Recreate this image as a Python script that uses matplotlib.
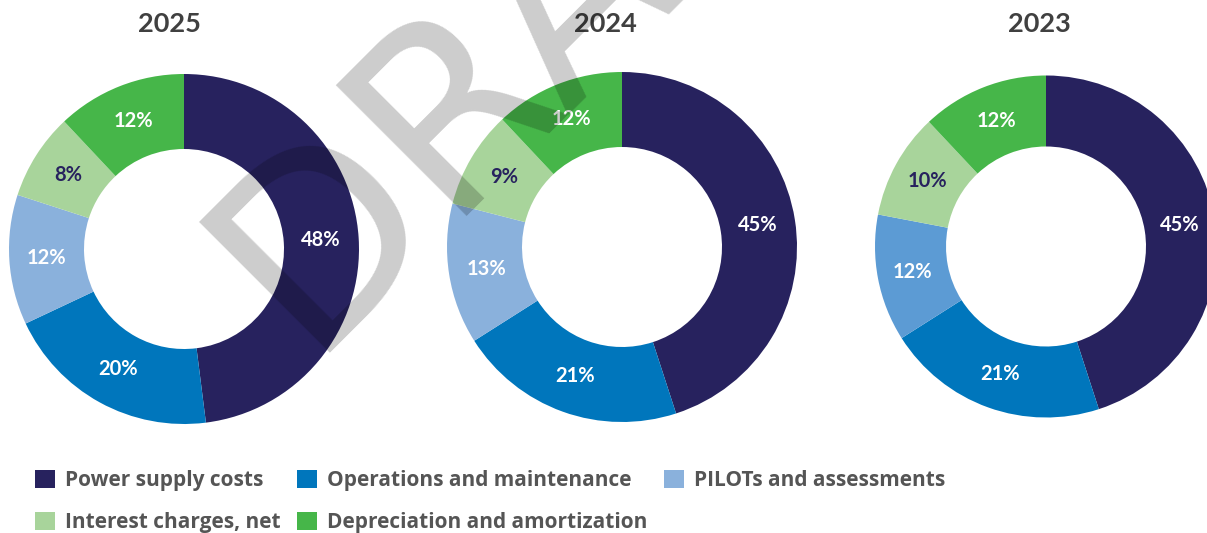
import matplotlib
matplotlib.use('Agg')
import matplotlib.pyplot as plt
from matplotlib.patches import Patch

plt.rcParams['font.family'] = ['Lato', 'DejaVu Sans']

# Data
years = ['2025', '2024', '2023']
categories = ['Power supply costs', 'Operations and maintenance', 'PILOTs and assessments',
              'Interest charges, net', 'Depreciation and amortization']
shares_2025 = [48, 20, 12, 8, 12]
shares_2024 = [45, 21, 13, 9, 12]
shares_2023 = [45, 21, 12, 10, 12]

# Styling
colors = ['#27225e', '#0076bc', '#8ab1dc', '#a8d49b', '#46b649']
colors_2023 = ['#27225e', '#0076bc', '#5c9bd4', '#a8d49b', '#46b649']
label_colors = ['white', 'white', 'white', '#27225e', 'white']

W, H = 1207, 533
fig = plt.figure(figsize=(W / 100, H / 100), dpi=100)
ax = fig.add_axes([0, 0, 1, 1])

# donut layout in pixel units (y measured from bottom)
centers = [(184, 284), (622, 286), (1046, 286.5)]
radii = [175, 175, 171]
hole = 100
title_pos = [(169, 509), (605, 509), (1039, 509)]

all_shares = [shares_2025, shares_2024, shares_2023]
all_colors = [colors, colors, colors_2023]

for year, shares, cols, c, r, tp in zip(years, all_shares, all_colors, centers, radii, title_pos):
    width = r - hole
    mid = (r + hole) / 2 / r
    wedges, _, autotexts = ax.pie(shares, colors=cols, startangle=90, counterclock=False,
                                  center=c, radius=r, autopct=lambda p: f'{p:.0f}%',
                                  pctdistance=mid,
                                  wedgeprops=dict(width=width, linewidth=0))
    for t, lc in zip(autotexts, label_colors):
        t.set_color(lc)
        t.set_fontsize(14.5)
        t.set_fontweight('bold')
    ax.text(tp[0], tp[1], year, ha='center', va='center', fontsize=19.5,
            fontweight='bold', color='#404040')

ax.set_xlim(0, W)
ax.set_ylim(0, H)
ax.set_aspect('auto')
ax.axis('off')

# legend, filled column by column
order = [0, 3, 1, 4, 2]
handles = [Patch(facecolor=colors[i], edgecolor='none') for i in order]
labels = [categories[i] for i in order]
fig.legend(handles, labels, loc='upper left', bbox_to_anchor=(35 / W, 1 - 470 / H),
           ncol=3, frameon=False, handlelength=0.96, handleheight=0.96,
           handletextpad=0.48, columnspacing=0.8, labelspacing=1.0, borderpad=0,
           borderaxespad=0, labelcolor='#555555',
           prop=dict(family='Open Sans', weight='bold', size=15))

# watermark
fig.text(0.2525, 0.338, 'DRAFT', rotation=45, rotation_mode='anchor', ha='left',
         va='baseline', fontsize=182, color='black', alpha=0.2,
         family='DejaVu Sans', zorder=10)

fig.savefig('out.png', dpi=100)
